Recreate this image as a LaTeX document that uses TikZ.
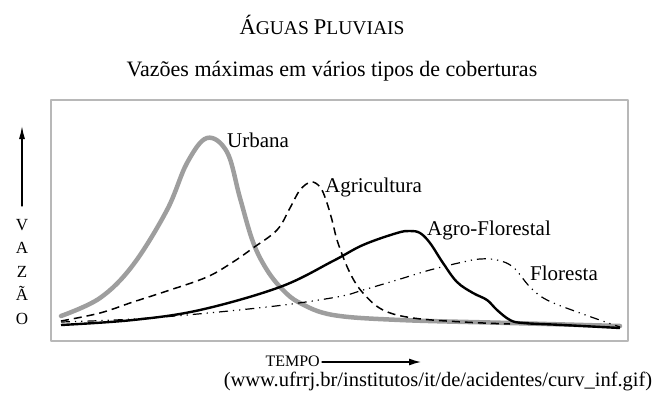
\documentclass[tikz,border=0pt]{standalone}
\usepackage{fontspec}
\setmainfont{Liberation Serif}
\usepackage{tikz}
\usetikzlibrary{arrows.meta}
\usepackage{tkz-euclide}

\newcommand{\versal}[2]{{\fontsize{22.5}{26}\selectfont #1}{\fontsize{19.5}{22}\selectfont #2}}
\tikzset{
  rotulo/.style={anchor=base west,inner sep=0pt,font=\fontsize{21}{24}\selectfont},
  urbana/.style={color=black!38,line width=4.5pt},
  agricultura/.style={color=black,line width=1.5pt,dash pattern=on 8pt off 5pt},
  agroflorestal/.style={color=black,line width=2.4pt},
  floresta/.style={color=black,line width=1.2pt,dash pattern=on 9pt off 5pt on 1.2pt off 5pt on 1.2pt off 5pt}
}

\begin{document}
\begin{tikzpicture}[x=1pt,y=-1pt]
        \useasboundingbox (0,0) rectangle (667,404);
        \tkzDefPoint(51,100){Q1} \tkzDefPoint(628,341){Q3}
        \tkzDefPoint(628,100){Q2} \tkzDefPoint(51,341){Q4}
        \tkzDefPoint(22,206){V0} \tkzDefPoint(22,126){V1}
        \tkzDefPoint(322,362){T0} \tkzDefPoint(421,362){T1}

        \tkzDrawPolygon[color=black!28,line width=2pt](Q1,Q2,Q3,Q4)
        \tkzDrawSegments[color=black,line width=1.3pt,-{Latex[length=13pt,width=6pt]}](V0,V1)
        \tkzDrawSegments[color=black,line width=1.3pt,-{Latex[length=12pt,width=7pt]}](T0,T1)

        % curvas de vazao
        \draw[urbana,line cap=round] plot[smooth,tension=0.6] coordinates {(61,316) (100,298) (133,265) (167,210) (187,163) (207,138) (227,152) (240,198) (253,242) (267,270) (283,290) (300,303) (333,315) (400,320) (510,323) (620,326)};
        \draw[agricultura] plot[smooth,tension=0.6] coordinates {(61,321) (100,313) (133,302) (167,291) (207,277) (233,262) (253,248) (277,230) (290,208) (300,190) (311,182) (320,187) (326,200) (332,220) (338,243) (350,273) (363,293) (383,310) (413,318) (463,322) (510,324)};
        \draw[floresta] plot[smooth,tension=0.6] coordinates {(61,322) (150,318) (267,307) (337,297) (363,290) (397,280) (430,270) (463,262) (480,259) (497,260) (513,267) (530,287) (547,300) (580,313) (620,327)};
        \draw[agroflorestal] plot[smooth,tension=0.6] coordinates {(61,325) (133,320) (200,310) (280,287) (333,261) (363,245) (397,233) (410,231) (420,233) (430,243) (443,263) (457,282) (473,293) (487,300) (497,310) (510,320) (523,323) (563,325) (620,328)};

        \node[rotulo] (urb) at (227,147) {Urbana};
        \node[rotulo] (agr) at (325,192) {Agricultura};
        \node[rotulo] (agf) at (427,235) {Agro-Florestal};
        \node[rotulo] (flo) at (530,280) {Floresta};

        \node[anchor=base,inner sep=0pt] (titulo) at (322,35) {\versal{Á}{GUAS}\hspace{5pt}\versal{P}{LUVIAIS}};
        \node[anchor=base,inner sep=0pt,font=\fontsize{22}{26}\selectfont] (sub) at (332,77) {Vazões máximas em vários tipos de coberturas};
        \node[anchor=base east,inner sep=0pt,font=\fontsize{16}{19}\selectfont] (tempo) at (320,366.5) {TEMPO};
        \node[anchor=base,inner sep=0pt,font=\fontsize{20.5}{24}\selectfont] (fonte) at (438,386) {(www.ufrrj.br/institutos/it/de/acidentes/curv\_inf.gif)};
        \foreach \l [count=\i] in {V,A,Z,Ã,O}
          \node[anchor=base,inner sep=0pt,font=\fontsize{17}{20}\selectfont] (v\i) at (22,{230+23.5*(\i-1)}) {\l};
    \end{tikzpicture}
\end{document}
